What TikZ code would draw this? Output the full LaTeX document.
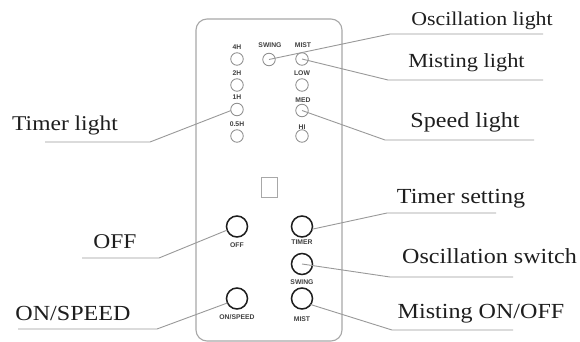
\documentclass[tikz,border=0pt]{standalone}
\usepackage{fontspec}
\setmainfont[FakeStretch=1.12]{Liberation Serif}
\setsansfont{Liberation Sans}
\definecolor{leader}{HTML}{999999}
\definecolor{panelc}{HTML}{A8A8A8}
\definecolor{lightc}{HTML}{8C8C8C}
\definecolor{inkc}{HTML}{1E1E1E}
\tikzset{
  lamp/.style={circle,draw=lightc,line width=0.8pt,minimum size=12.5pt,inner sep=0pt,outer sep=0pt},
  knob/.style={circle,draw=inkc,line width=1.5pt,minimum size=21pt,inner sep=0pt,outer sep=0pt},
  tiny/.style={font=\sffamily\bfseries\fontsize{6.8}{7}\selectfont,text=black!75,inner sep=0pt},
  callout/.style={font=\fontsize{21.5}{23}\selectfont,text=inkc,inner sep=0pt,anchor=base},
  leaderline/.style={draw=leader,line width=0.9pt}
}
\begin{document}
\begin{tikzpicture}[x=1pt,y=-1pt]
\useasboundingbox (0,0) rectangle (580,342);
\fill[white] (0,0) rectangle (580,342);
% panel
\draw[draw=panelc,line width=1.1pt,rounded corners=11pt] (196,19) rectangle (342,341);
\node[draw=panelc,line width=1pt,minimum width=16.5pt,minimum height=20pt,inner sep=0pt] (win) at (269.5,187) {};
% lamps
\node[lamp] (h4) at (237,59) {};
\node[lamp] (h2) at (237,85) {};
\node[lamp] (h1) at (237,109.5) {};
\node[lamp] (h05) at (237,136) {};
\node[lamp] (lswing) at (269,59.5) {};
\node[lamp] (lmist) at (302,59) {};
\node[lamp] (llow) at (302,85) {};
\node[lamp] (lmed) at (302,110.5) {};
\node[lamp] (lhi) at (302,136) {};
\node[tiny] (t4) at (237,47) {4H};
\node[tiny] (t2) at (237,73) {2H};
\node[tiny] (t1) at (237,97.5) {1H};
\node[tiny] (t05) at (237,124.5) {0.5H};
\node[tiny] (tswing) at (270,45.5) {SWING};
\node[tiny] (tmist) at (303,45.5) {MIST};
\node[tiny] (tlow) at (302,73) {LOW};
\node[tiny] (tmed) at (303,100) {MED};
\node[tiny] (thi) at (302,127) {HI};
% buttons
\node[knob] (boff) at (237,226.5) {};
\node[knob] (btimer) at (302,226.5) {};
\node[knob] (bswing) at (302,264) {};
\node[knob] (bon) at (237,298.5) {};
\node[knob] (bmist) at (302,298.5) {};
\node[tiny] (toff) at (237,245) {OFF};
\node[tiny] (ttimer) at (302,242.5) {TIMER};
\node[tiny] (tbswing) at (302,282) {SWING};
\node[tiny] (ton) at (237,317) {ON/SPEED};
\node[tiny] (tbmist) at (302,319) {MIST};
% callouts
\node[callout,font=\fontsize{19.5}{21}\selectfont] (c1) at (482,26) {Oscillation light};
\node[callout,font=\fontsize{20}{22}\selectfont] (c2) at (466.5,68) {Misting light};
\node[callout] (c3) at (465,127) {Speed light};
\node[callout] (c4) at (461,203) {Timer setting};
\node[callout] (c5) at (489.5,263) {Oscillation switch};
\node[callout] (c6) at (481,318) {Misting ON/OFF};
\node[callout,font=\fontsize{21}{23}\selectfont] (c7) at (65,130) {Timer light};
\node[callout,font=\fontsize{21}{23}\selectfont] (c8) at (115,248) {OFF};
\node[callout] (c9) at (73,320) {ON/SPEED};
% leader coordinates
\coordinate (e1) at (543,34); \coordinate (k1) at (390,34);
\coordinate (e2) at (543,80); \coordinate (k2) at (388,80);
\coordinate (e3) at (534,140); \coordinate (k3) at (385,140);
\coordinate (e4) at (496,213); \coordinate (k4) at (387,213);
\coordinate (e5) at (513,277); \coordinate (k5) at (390,277);
\coordinate (e6) at (513,330); \coordinate (k6) at (392,330);
\coordinate (e7) at (45,142); \coordinate (k7) at (150,142);
\coordinate (e8) at (82,258); \coordinate (k8) at (159,258);
\coordinate (e9) at (18,329); \coordinate (k9) at (157,329);
\draw[leaderline] (e1) -- (k1) -- (lswing.center);
\draw[leaderline] (e2) -- (k2) -- (lmist.center);
\draw[leaderline] (e3) -- (k3) -- (lmed.center);
\draw[leaderline] (e4) -- (k4) -- (btimer.-15);
\draw[leaderline] (e5) -- (k5) -- (bswing.center);
\draw[leaderline] (e6) -- (k6) -- (bmist.-35);
\draw[leaderline] (e7) -- (k7) -- (h1.190);
\draw[leaderline] (e8) -- (k8) -- (boff.200);
\draw[leaderline] (e9) -- (k9) -- (bon.205);
\end{tikzpicture}
\end{document}
